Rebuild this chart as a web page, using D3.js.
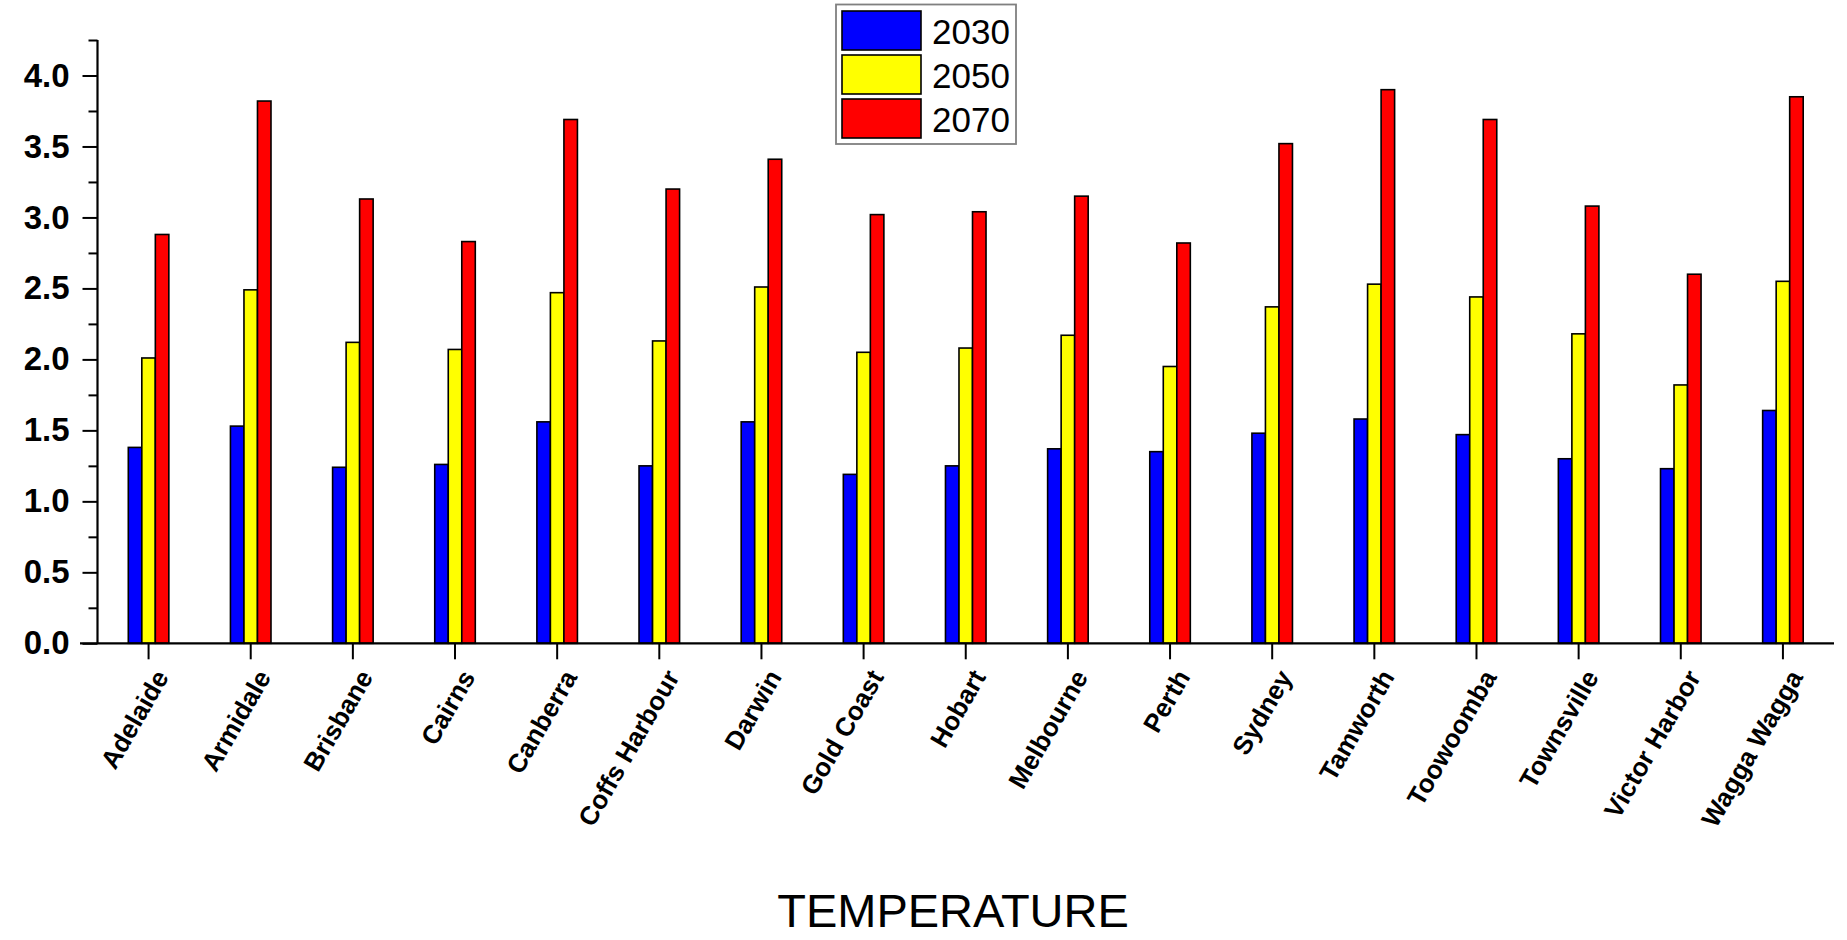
<!DOCTYPE html>
<html>
<head>
<meta charset="utf-8">
<script src="https://cdn.jsdelivr.net/npm/d3@7"></script>
<style>
  html, body { margin: 0; padding: 0; background: #fff; }
  svg { display: block; }
  text { font-family: "Liberation Sans", Arial, Helvetica, sans-serif; }
</style>
</head>
<body>
<svg id="chart" width="1847" height="940"></svg>
<script>
const categories = ["Adelaide","Armidale","Brisbane","Cairns","Canberra","Coffs Harbour","Darwin","Gold Coast","Hobart","Melbourne","Perth","Sydney","Tamworth","Toowoomba","Townsville","Victor Harbor","Wagga Wagga"];
const years = ["2030","2050","2070"];
const v2030 = [1.38,1.53,1.24,1.26,1.56,1.25,1.56,1.19,1.25,1.37,1.35,1.48,1.58,1.47,1.30,1.23,1.64];
const v2050 = [2.01,2.49,2.12,2.07,2.47,2.13,2.51,2.05,2.08,2.17,1.95,2.37,2.53,2.44,2.18,1.82,2.55];
const v2070 = [2.88,3.82,3.13,2.83,3.69,3.20,3.41,3.02,3.04,3.15,2.82,3.52,3.90,3.69,3.08,2.60,3.85];
const colors = ["#0000ff","#ffff00","#ff0000"];
const majorTicks = [0,0.5,1.0,1.5,2.0,2.5,3.0,3.5,4.0];
const minorTicks = [0.25,0.75,1.25,1.75,2.25,2.75,3.25,3.75,4.25];
const xTitle = "TEMPERATURE";

const series = [v2030, v2050, v2070];
const svg = d3.select("#chart");

const x0 = 97.5, x1 = 1834, yBottom = 643.3, yTop = 40;
const x = d3.scaleBand().domain(categories).range([x0, x1]).padding(0);
const groupW = x.step() * 0.397;
const xs = d3.scaleBand().domain(years).range([-groupW/2, groupW/2]).padding(0);
const y = d3.scaleLinear().domain([0, 4.25]).range([yBottom, yTop]);

// bars
const groups = svg.append("g").selectAll("g")
  .data(categories)
  .join("g")
  .attr("transform", d => `translate(${x(d) + x.bandwidth()/2},0)`);

groups.selectAll("rect")
  .data((d, i) => years.map((yr, k) => ({yr, k, v: series[k][i]})))
  .join("rect")
  .attr("x", d => xs(d.yr))
  .attr("width", xs.bandwidth())
  .attr("y", d => y(d.v))
  .attr("height", d => y(0) - y(d.v))
  .attr("fill", d => colors[d.k])
  .attr("stroke", "#000")
  .attr("stroke-width", 1.6);

// y axis
const yAxis = svg.append("g").attr("transform", `translate(${x0},0)`)
  .call(d3.axisLeft(y).tickValues(majorTicks).tickSize(15).tickPadding(13).tickFormat(d3.format(".1f")));
yAxis.select(".domain").remove();
yAxis.selectAll(".tick line").attr("stroke", "#000").attr("stroke-width", 2);
yAxis.selectAll(".tick text")
  .attr("font-size", 33).attr("font-weight", "bold").attr("fill", "#000")
  .attr("font-family", "'Liberation Sans', Arial, sans-serif");

const yMinor = svg.append("g").attr("transform", `translate(${x0},0)`)
  .call(d3.axisLeft(y).tickValues(minorTicks).tickSize(9).tickFormat(""));
yMinor.select(".domain").remove();
yMinor.selectAll(".tick line").attr("stroke", "#000").attr("stroke-width", 2);

svg.append("line").attr("x1", x0).attr("x2", x0).attr("y1", y(4.25)).attr("y2", y(0))
  .attr("stroke", "#000").attr("stroke-width", 2.2);

// x axis
const xAxis = svg.append("g").attr("transform", `translate(0,${yBottom})`)
  .call(d3.axisBottom(x).tickSize(16).tickSizeOuter(0));
xAxis.select(".domain").remove();
xAxis.selectAll(".tick line").attr("stroke", "#000").attr("stroke-width", 2);
xAxis.selectAll(".tick text")
  .attr("font-size", 26).attr("font-weight", "bold").attr("fill", "#000")
  .attr("font-family", "'Liberation Sans', Arial, sans-serif")
  .attr("text-anchor", "end")
  .attr("dy", "0.35em")
  .attr("transform", "translate(13,29) rotate(-60)")
  .attr("x", 0).attr("y", 0);

svg.append("line").attr("x1", 80).attr("x2", x1).attr("y1", yBottom).attr("y2", yBottom)
  .attr("stroke", "#000").attr("stroke-width", 2.2);

// legend
const lg = svg.append("g");
lg.append("rect").attr("x", 836).attr("y", 4.5).attr("width", 180).attr("height", 139.5)
  .attr("fill", "#fff").attr("stroke", "#808080").attr("stroke-width", 1.8);
years.forEach((yr, k) => {
  lg.append("rect").attr("x", 842).attr("y", 11 + k*44).attr("width", 79).attr("height", 39)
    .attr("fill", colors[k]).attr("stroke", "#000").attr("stroke-width", 1.6);
  lg.append("text").attr("x", 932).attr("y", 43.5 + k*44.2).text(yr)
    .attr("font-size", 35).attr("fill", "#000");
});

// x title
svg.append("text").attr("x", 953).attr("y", 927).attr("text-anchor", "middle")
  .attr("font-size", 47).attr("fill", "#000").text(xTitle);
</script>
</body>
</html>
